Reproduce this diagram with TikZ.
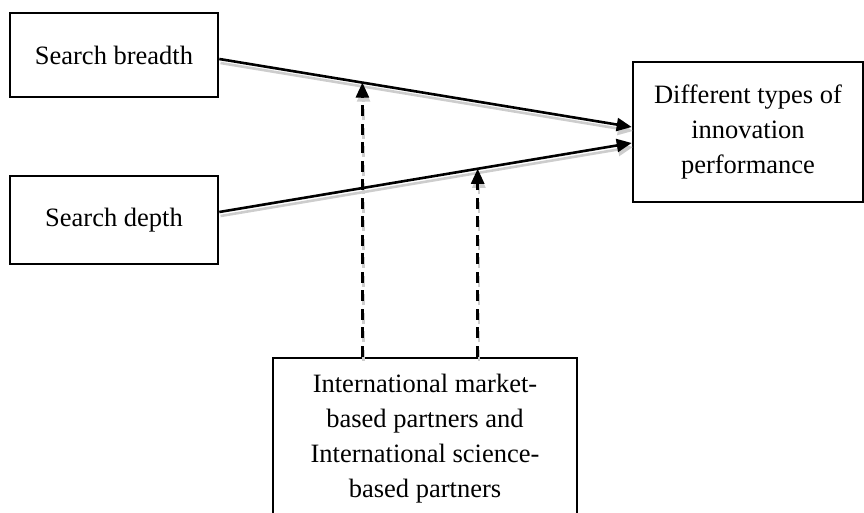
\documentclass[tikz,border=0pt]{standalone}
\usepackage{fontspec}
\setmainfont{Liberation Serif}
\usetikzlibrary{calc,arrows.meta}

\definecolor{shadegray}{RGB}{205,205,205}

\tikzset{
  box/.style={draw, line width=2.6pt, rectangle, align=center, inner sep=0pt,
    font=\fontsize{26.5}{35}\selectfont},
  link/.style={line width=2.6pt, -{Triangle[length=15pt,width=13pt]}},
  modlink/.style={link, dash pattern=on 11pt off 7.5pt},
  shade/.style={draw=shadegray, transform canvas={shift={(1.2pt,-4pt)}}}
}

\begin{document}
\begin{tikzpicture}[x=1pt, y=-1pt]
  \useasboundingbox (0,0) rectangle (864,513);
  \clip (0,0) rectangle (864,513);

  % constructs
  \node[box, minimum width=208pt, minimum height=84pt] (b1) at (114,55) {Search breadth};
  \node[box, minimum width=208pt, minimum height=88pt] (b2) at (114,220) {Search depth};
  \node[box, minimum width=230pt, minimum height=140pt] (b3) at (748,132)
    {Different types of\\innovation\\performance};
  \node[box, minimum width=304pt, minimum height=162pt] (b4) at (425,439)
    {International market-\\based partners and\\International science-\\based partners};

  % end points of the main effects
  \coordinate (s1) at ($(b1.east)+(0,4)$);
  \coordinate (e1) at ($(b3.west)+(0,-5)$);
  \coordinate (s2) at ($(b2.east)+(0,-8)$);
  \coordinate (e2) at ($(b3.west)+(0,11)$);

  % where the moderating arrows meet the main effects
  \coordinate (m1) at ($(s1)!0.347!(e1)$);
  \coordinate (m2) at ($(s2)!0.6265!(e2)$);

  % soft shadows under the arrows
  \draw[link, shade] (s1) -- (e1);
  \draw[link, shade] (s2) -- (e2);
  \draw[modlink, shade] (b4.north -| m1) -- (m1);
  \draw[modlink, shade] (b4.north -| m2) -- (m2);

  % main effects
  \draw[link] (s1) -- (e1);
  \draw[link] (s2) -- (e2);

  % moderation
  \draw[modlink] (b4.north -| m1) -- (m1);
  \draw[modlink] (b4.north -| m2) -- (m2);
\end{tikzpicture}
\end{document}
